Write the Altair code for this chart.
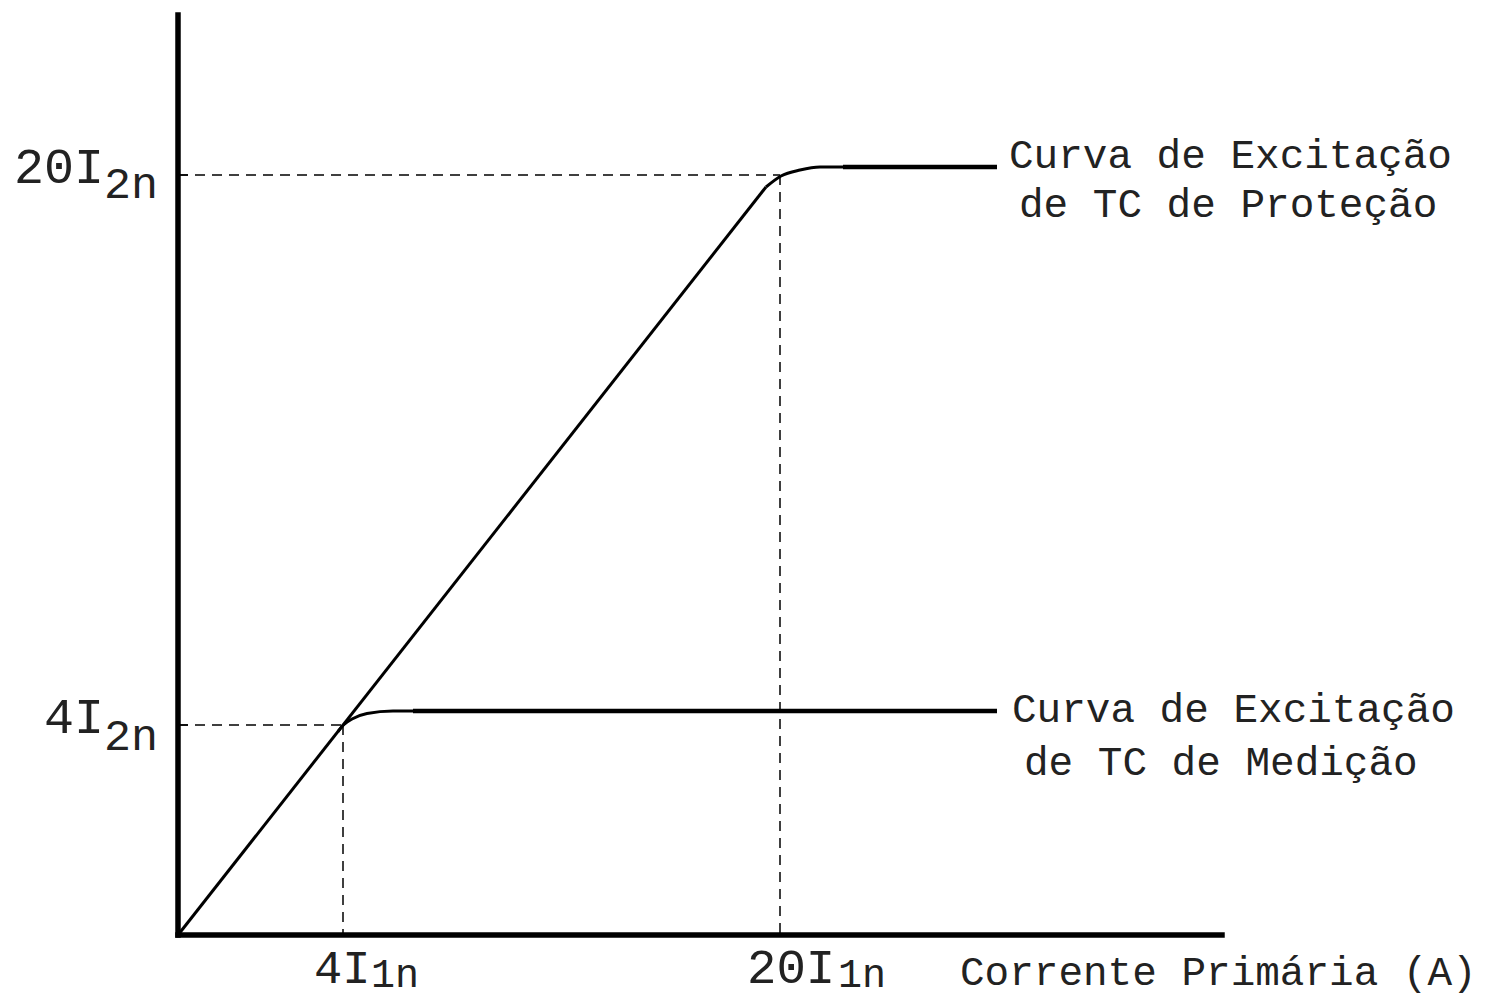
import altair as alt
import pandas as pd

# Schematic units: origin at (0,0); 1 unit ~ 10 px in the reference
FONT = "Liberation Mono"

# Key levels
x_4I1n, x_20I1n = 16.5, 60.2
y_4I2n, y_20I2n = 21.0, 76.0

# Common linear part (protection CT, up to its knee)
lin_x = [0.0, 58.8]
lin_y = [0.0, 74.8]

# Protection CT knee
prot_x = [58.8, 60.3, 62.2, 64.2, 66.5]
prot_y = [74.8, 75.9, 76.5, 76.8, 76.8]
prot_flat = (66.5, 81.9, 76.8)

# Measurement CT knee (branching from the common line)
med_x = [16.0, 16.6, 17.4, 18.9, 21.5, 23.5]
med_y = [20.35, 21.05, 21.6, 22.15, 22.4, 22.4]
med_flat = (23.5, 81.9, 22.4)

# Axis extents
x_axis_end = 104.4
y_axis_end = 92.0

lin = pd.DataFrame({"x": lin_x, "y": lin_y, "i": range(len(lin_x))})
knees = pd.DataFrame(
    [{"c": "prot", "i": i, "x": a, "y": b} for i, (a, b) in enumerate(zip(prot_x, prot_y))]
    + [{"c": "med", "i": i, "x": a, "y": b} for i, (a, b) in enumerate(zip(med_x, med_y))]
)
flats = pd.DataFrame([
    {"x": prot_flat[0], "x2": prot_flat[1], "y": prot_flat[2], "y2": prot_flat[2]},
    {"x": med_flat[0], "x2": med_flat[1], "y": med_flat[2], "y2": med_flat[2]},
])
axes_df = pd.DataFrame([
    {"x": 0, "x2": 0, "y": 0, "y2": y_axis_end},
    {"x": 0, "x2": x_axis_end, "y": 0, "y2": 0},
])
guides = pd.DataFrame([
    {"x": 0, "x2": x_20I1n, "y": y_20I2n, "y2": y_20I2n},
    {"x": x_20I1n, "x2": x_20I1n, "y": y_20I2n, "y2": 0},
    {"x": 0, "x2": x_4I1n, "y": y_4I2n, "y2": y_4I2n},
    {"x": x_4I1n, "x2": x_4I1n, "y": y_4I2n, "y2": 0},
])
ticks = pd.DataFrame([
    {"x": 0, "x2": 1.0, "y": y_20I2n, "y2": y_20I2n},
    {"x": 0, "x2": 1.0, "y": y_4I2n, "y2": y_4I2n},
])

# Labels: text, x, y (baseline), font size, alignment
label_text = ["20I", "2n", "4I", "2n", "4I", "1n", "20I", "1n",
              "Corrente Primária (A)",
              "Curva de Excitação", "de TC de Proteção",
              "Curva de Excitação", "de TC de Medição"]
label_x = [-7.4, -7.4, -7.4, -7.4, 13.6, 19.3, 56.9, 66.0,
           78.2, 83.1, 84.1, 83.4, 84.6]
label_y = [75.2, 73.7, 20.2, 18.5, -4.8, -5.2, -4.8, -5.2,
           -5.0, 76.7, 71.8, 21.3, 16.0]
label_fs = [50, 45, 50, 45, 47, 40, 49, 40, 41, 41, 41, 41, 41]
label_al = ["right", "left", "right", "left", "left", "left", "left", "left",
            "left", "left", "left", "left", "left"]
labels = pd.DataFrame({"t": label_text, "x": label_x, "y": label_y,
                       "fs": label_fs, "al": label_al})

xs = alt.Scale(domain=[-17.0, 130.0], nice=False, zero=False)
ys = alt.Scale(domain=[-6.5, 92.7], nice=False, zero=False)

def X(f="x"):
    return alt.X(f"{f}:Q", scale=xs, axis=None)

def Y(f="y"):
    return alt.Y(f"{f}:Q", scale=ys, axis=None)

axes_layer = alt.Chart(axes_df).mark_rule(color="black", strokeWidth=5.5, strokeCap="square").encode(
    x=X(), x2="x2:Q", y=Y(), y2="y2:Q")
guide_layer = alt.Chart(guides).mark_rule(color="black", strokeWidth=1.5, strokeDash=[10, 7]).encode(
    x=X(), x2="x2:Q", y=Y(), y2="y2:Q")
tick_layer = alt.Chart(ticks).mark_rule(color="black", strokeWidth=1.5).encode(
    x=X(), x2="x2:Q", y=Y(), y2="y2:Q")
lin_layer = alt.Chart(lin).mark_line(color="black", strokeWidth=3).encode(
    x=X(), y=Y(), order="i:Q")
knee_layer = alt.Chart(knees).mark_line(color="black", strokeWidth=3, interpolate="monotone").encode(
    x=X(), y=Y(), detail="c:N", order="i:Q")
flat_layer = alt.Chart(flats).mark_rule(color="black", strokeWidth=4.5).encode(
    x=X(), x2="x2:Q", y=Y(), y2="y2:Q")

text_right = alt.Chart(labels[labels.al == "right"]).mark_text(
    font=FONT, align="right", baseline="alphabetic", color="#222").encode(
    x=X(), y=Y(), text="t:N", size=alt.Size("fs:Q", scale=None, legend=None))
text_left = alt.Chart(labels[labels.al == "left"]).mark_text(
    font=FONT, align="left", baseline="alphabetic", color="#222").encode(
    x=X(), y=Y(), text="t:N", size=alt.Size("fs:Q", scale=None, legend=None))

chart = alt.layer(
    guide_layer, tick_layer, lin_layer, knee_layer, flat_layer, axes_layer, text_right, text_left
).properties(
    width=1470, height=992, padding=0,
    autosize=alt.AutoSizeParams(type="none"),
).configure_view(stroke=None)

chart.save("out.html", embed_options={"renderer": "svg", "actions": False})
